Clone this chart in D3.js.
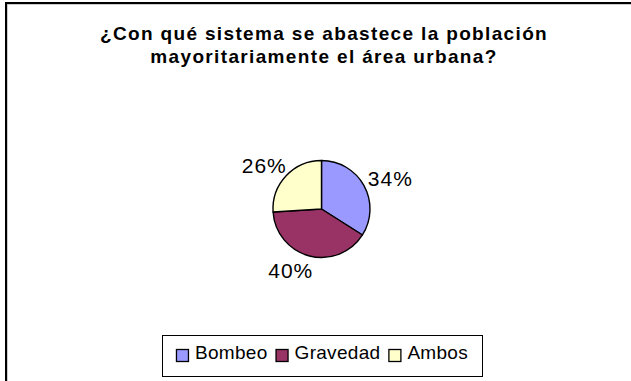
<!DOCTYPE html>
<html>
<head>
<meta charset="utf-8">
<script src="https://cdn.jsdelivr.net/npm/d3@7"></script>
<style>
  html, body { margin: 0; padding: 0; background: #fff; }
  svg { display: block; }
</style>
</head>
<body>
<svg id="chart" width="631" height="381"></svg>
<script>
// Chart data
const titleLines = ["¿Con qué sistema se abastece la población", "mayoritariamente el área urbana?"];
const categories = ["Bombeo", "Gravedad", "Ambos"];
const values = [34, 40, 26];
const colors = ["#9999FF", "#993366", "#FFFFCC"];

const W = 631, H = 381;
const svg = d3.select("#chart");
const font = "'Liberation Sans', Arial, sans-serif";

// Outer chart frame (runs off the right and bottom edges)
svg.append("rect")
  .attr("x", 7).attr("y", 4).attr("width", W + 20).attr("height", H + 20)
  .attr("fill", "none").attr("stroke", "#999").attr("stroke-width", 1);
svg.append("rect")
  .attr("x", 6).attr("y", 3).attr("width", W + 20).attr("height", H + 20)
  .attr("fill", "none").attr("stroke", "#000").attr("stroke-width", 2);

// Title
const title = svg.append("text")
  .attr("text-anchor", "middle")
  .attr("font-family", font)
  .attr("font-weight", "bold")
  .attr("font-size", 19)
  .attr("letter-spacing", "1.35px")
  .attr("fill", "#000");
title.selectAll("tspan").data(titleLines).join("tspan")
  .attr("x", 324)
  .attr("y", (d, i) => 40 + i * 23)
  .text(d => d);

// Pie
const cx = 321.5, cy = 209, r = 48.5;
const pie = d3.pie().sort(null).value(d => d)(values);
const arc = d3.arc().innerRadius(0).outerRadius(r);
const g = svg.append("g").attr("transform", `translate(${cx},${cy})`);
g.selectAll("path").data(pie).join("path")
  .attr("d", arc)
  .attr("fill", (d, i) => colors[i])
  .attr("stroke", "#000")
  .attr("stroke-width", 1.4)
  .attr("stroke-linejoin", "round");

// Percentage labels placed just outside each slice
const total = d3.sum(values);
const labelR = 56;
g.selectAll("text.pct").data(pie).join("text")
  .attr("class", "pct")
  .attr("font-family", font)
  .attr("font-size", 21)
  .attr("letter-spacing", "1px")
  .attr("fill", "#000")
  .text(d => Math.round(d.data / total * 100) + "%")
  .each(function(d) {
    const a = (d.startAngle + d.endAngle) / 2;
    const sx = Math.sin(a), sy = -Math.cos(a);
    const bb = this.getBBox();
    const w = bb.width, h = 16;
    // lower labels are pushed further sideways, away from the slice edge
    const mx = labelR * sx + sx * w / 2 + (sy > 0.8 ? sx * w : 0);
    const my = labelR * sy + sy * h / 2;
    d3.select(this)
      .attr("text-anchor", "middle")
      .attr("x", mx)
      .attr("y", my + 7.5);
  });

// Legend
const legend = svg.append("g");
legend.append("rect")
  .attr("x", 162.5).attr("y", 335.5).attr("width", 320).attr("height", 41)
  .attr("fill", "#fff").attr("stroke", "#000").attr("stroke-width", 1);
const items = legend.append("g");
let xPos = 0;
categories.forEach((c, i) => {
  const it = items.append("g").attr("transform", `translate(${xPos},0)`);
  it.append("rect")
    .attr("x", 0.5).attr("y", 349.5).attr("width", 12).attr("height", 12)
    .attr("fill", colors[i]).attr("stroke", "#000").attr("stroke-width", 1.3);
  const t = it.append("text")
    .attr("x", 19).attr("y", 359)
    .attr("font-family", font)
    .attr("font-size", 19)
    .attr("letter-spacing", "0.3px")
    .attr("fill", "#000")
    .text(c);
  xPos += 19 + t.node().getComputedTextLength() + 8;
});
const itemsW = xPos - 8;
items.attr("transform", `translate(${322 - itemsW / 2},0)`);
</script>
</body>
</html>
